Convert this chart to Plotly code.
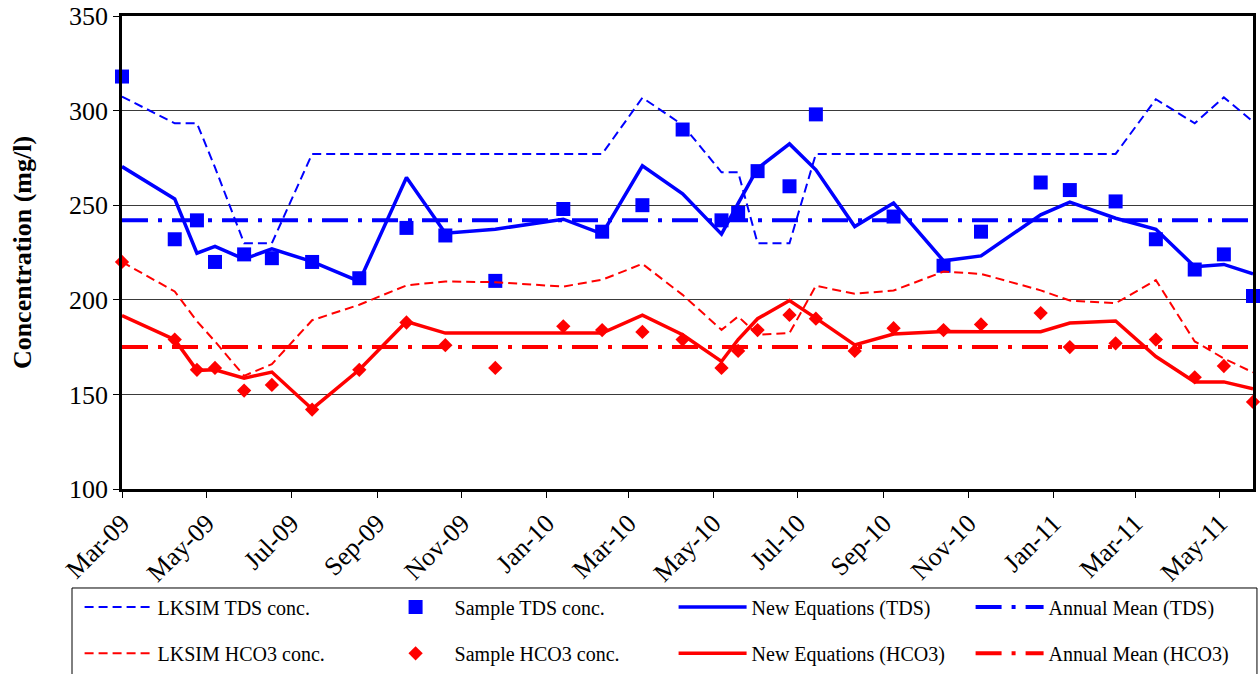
import plotly.graph_objects as go

# Sampling dates (shared by every series)
dates = [
    "2009-03-01", "2009-04-08", "2009-04-24", "2009-05-07", "2009-05-28", "2009-06-17",
    "2009-07-16", "2009-08-19", "2009-09-22", "2009-10-20", "2009-11-25", "2010-01-13",
    "2010-02-10", "2010-03-11", "2010-04-09", "2010-05-07", "2010-05-19", "2010-06-02",
    "2010-06-25", "2010-07-14", "2010-08-11", "2010-09-08", "2010-10-14", "2010-11-10",
    "2010-12-23", "2011-01-13", "2011-02-15", "2011-03-16", "2011-04-13", "2011-05-04",
    "2011-05-25",
]

# TDS (mg/l)
lksim_tds = [307.4, 293.3, 293.3, 270.0, 229.9, 229.9, 277.1, 277.1, 277.1, 277.1, 277.1,
             277.1, 277.1, 306.8, 292.4, 267.4, 267.4, 229.9, 229.9, 277.1, 277.1, 277.1,
             277.1, 277.1, 277.1, 277.1, 277.1, 306.0, 293.3, 307.0, 294.2]
sample_tds = [318, 232, 242, 220, 224, 222, 220, 211.4, 238, 234, 210, 248, 236, 250, 290,
              242, 246, 268, 260, 298, None, 244, 218, 236, 262, 258, 252, 232, 216, 224, 202]
new_eq_tds = [270.4, 253.3, 224.6, 228.2, 221.5, 226.9, 220.2, 209.7, 264.6, 235.2, 237.3,
              242.6, 234.9, 270.8, 256.0, 234.7, 251.0, 269.5, 282.4, 268.7, 238.7, 251.1,
              220.6, 223.2, 244.9, 251.6, 243.1, 237.3, 217.5, 218.7, 213.7]
annual_mean_tds = 242

# HCO3 (mg/l)
lksim_hco3 = [220.0, 204.4, 188.7, 178.0, 159.8, 166.0, 189.2, 197.4, 207.6, 209.7, 209.3,
              207.0, 210.6, 219.0, 202.6, 184.1, 191.2, 181.5, 182.4, 207.4, 203.2, 204.9,
              214.9, 213.7, 205.0, 199.6, 198.2, 210.4, 178.0, 169.0, 161.6]
sample_hco3 = [220, 179, 163, 164, 152, 155, 142, 163, 188, 176, 164, 186, 184, 183, 179,
               164, 173, 184, 192, 190, 173, 185, 184, 187, 193, 175, 177, 179, 159, 165, 146]
new_eq_hco3 = [191.7, 178.9, 162.7, 163.0, 158.6, 161.8, 142.3, 163.0, 188.5, 182.4, 182.4,
               182.4, 182.4, 191.9, 181.5, 167.4, 179.0, 190.0, 199.6, 190.3, 176.2, 181.9,
               183.3, 183.1, 183.1, 187.7, 188.8, 170.0, 156.6, 156.6, 153.0]
annual_mean_hco3 = 175

BLUE = "#0000FF"
RED = "#FF0000"
FONT = "Liberation Serif"
LKSIM_DASH = "9px,5px"
MEAN_DASH = "26px,10px,4px,10px"

fig = go.Figure()

span = [dates[0], dates[-1]]

def add_group(color, lksim, sample, new_eq, mean, name, symbol, msize, legend):
    fig.add_trace(go.Scatter(
        x=dates, y=lksim, mode="lines", name=f"LKSIM {name} conc.",
        line=dict(color=color, width=2, dash=LKSIM_DASH),
        legend=legend, legendrank=1, cliponaxis=False))
    fig.add_trace(go.Scatter(
        x=dates, y=new_eq, mode="lines", name=f"New Equations ({name})",
        line=dict(color=color, width=3.5),
        legend=legend, legendrank=3, cliponaxis=False))
    fig.add_trace(go.Scatter(
        x=span, y=[mean, mean], mode="lines", name=f"Annual Mean ({name})",
        line=dict(color=color, width=4, dash=MEAN_DASH),
        legend=legend, legendrank=4, cliponaxis=False))
    fig.add_trace(go.Scatter(
        x=dates, y=sample, mode="markers", name=f"Sample {name} conc.",
        marker=dict(color=color, symbol=symbol, size=msize, line=dict(width=0)),
        legend=legend, legendrank=2, cliponaxis=False))

add_group(BLUE, lksim_tds, sample_tds, new_eq_tds, annual_mean_tds, "TDS", "square", 14, "legend")
add_group(RED, lksim_hco3, sample_hco3, new_eq_hco3, annual_mean_hco3, "HCO3", "diamond", 11, "legend2")

legend_common = dict(
    orientation="h", xanchor="left", yanchor="middle",
    entrywidth=214, entrywidthmode="pixels", itemwidth=68,
    bgcolor="rgba(0,0,0,0)", borderwidth=0,
    font=dict(family=FONT, size=20, color="black"),
    traceorder="normal",
)

fig.update_layout(
    width=1260, height=674,
    margin=dict(l=122, r=7, t=16, b=185, autoexpand=False),
    paper_bgcolor="white", plot_bgcolor="white",
    font=dict(family=FONT, color="black"),
    showlegend=True,
    legend=dict(x=-0.0375, y=-0.2495, **legend_common),
    legend2=dict(x=-0.0375, y=-0.3475, **legend_common),
    shapes=[dict(type="rect", xref="paper", yref="paper",
                 x0=-0.0442, x1=1.0035, y0=-0.2093, y1=-0.42,
                 line=dict(color="black", width=1), fillcolor="rgba(0,0,0,0)", layer="below")],
)

fig.update_xaxes(
    type="date", range=[dates[0], dates[-1]],
    tick0="2009-03-01", dtick="M2", tickformat="%b-%y", tickangle=-45,
    ticks="outside", ticklen=6, tickcolor="black", tickwidth=1,
    showgrid=False, zeroline=False, automargin=False,
    showline=True, linecolor="black", linewidth=2.5, mirror=True,
    tickfont=dict(family=FONT, size=26, color="black"),
)
fig.update_yaxes(
    range=[100, 350], dtick=50, tick0=100,
    ticks="outside", ticklen=6, tickcolor="black", tickwidth=1,
    showgrid=True, gridcolor="#3a3a3a", gridwidth=1, zeroline=False, automargin=False,
    showline=True, linecolor="black", linewidth=2.5, mirror=True,
    tickfont=dict(family=FONT, size=26, color="black"),
    title=dict(text="<b>Concentration (mg/l)</b>", font=dict(family=FONT, size=26, color="black"),
               standoff=30),
)

fig.write_html("out.html")
